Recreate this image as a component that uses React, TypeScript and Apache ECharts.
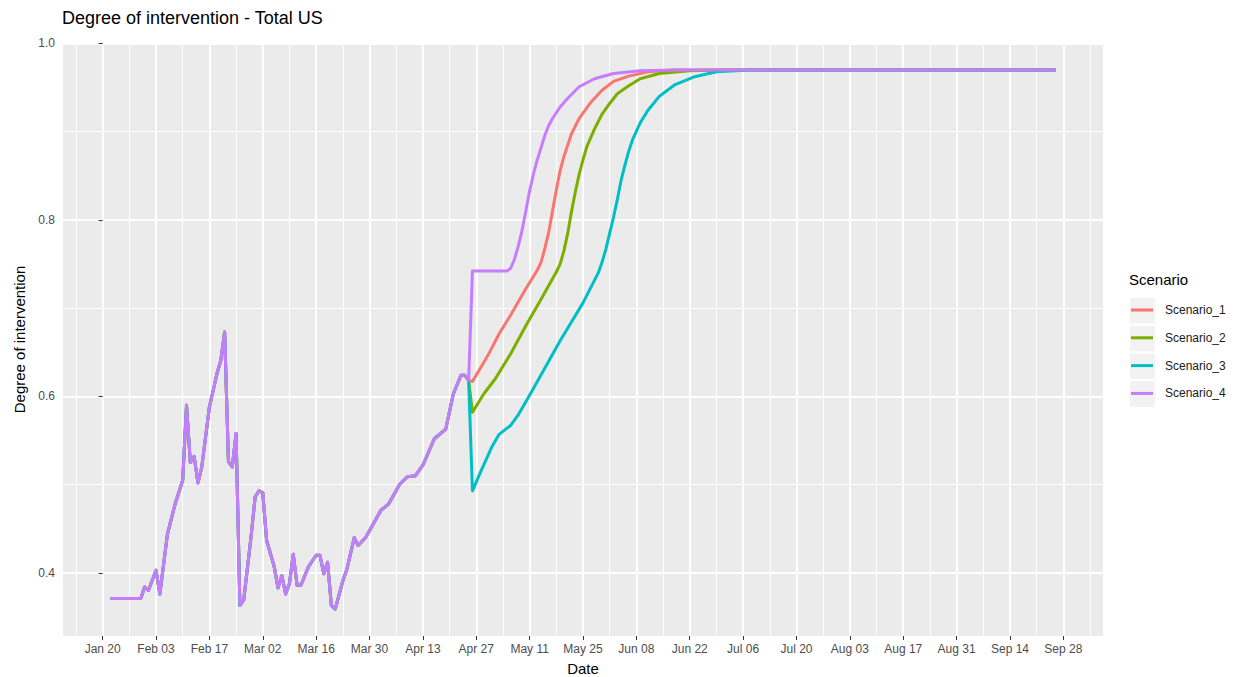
import React, { useEffect, useRef } from "react";
import * as echarts from "echarts";

// ---- data (dates 2020) ----
const historyDates = [
  "2020-01-22","2020-01-30","2020-01-31","2020-02-01","2020-02-03","2020-02-04","2020-02-06","2020-02-08",
  "2020-02-10","2020-02-11","2020-02-12","2020-02-13","2020-02-14","2020-02-15","2020-02-17","2020-02-19",
  "2020-02-20","2020-02-21","2020-02-22","2020-02-23","2020-02-24","2020-02-25","2020-02-26","2020-02-28",
  "2020-02-29","2020-03-01","2020-03-02","2020-03-03","2020-03-05","2020-03-06","2020-03-07","2020-03-08",
  "2020-03-09","2020-03-10","2020-03-11","2020-03-12","2020-03-14","2020-03-16","2020-03-17","2020-03-18",
  "2020-03-19","2020-03-20","2020-03-21","2020-03-23","2020-03-24","2020-03-26","2020-03-27","2020-03-29",
  "2020-04-02","2020-04-04","2020-04-07","2020-04-09","2020-04-11","2020-04-13","2020-04-16","2020-04-19",
  "2020-04-21","2020-04-23","2020-04-24","2020-04-25"
];
const historyValues = [
  0.371,0.371,0.384,0.380,0.403,0.376,0.444,0.478,
  0.505,0.590,0.525,0.532,0.502,0.520,0.588,0.626,
  0.641,0.673,0.526,0.520,0.558,0.363,0.369,0.444,
  0.486,0.493,0.491,0.437,0.407,0.383,0.397,0.376,
  0.388,0.421,0.386,0.386,0.407,0.420,0.420,0.399,
  0.412,0.363,0.359,0.391,0.403,0.440,0.431,0.440,
  0.471,0.478,0.501,0.509,0.510,0.522,0.552,0.563,
  0.603,0.624,0.624,0.618
];

const s1Dates = ["2020-04-26","2020-04-30","2020-05-03","2020-05-06","2020-05-10","2020-05-13","2020-05-14","2020-05-15","2020-05-16","2020-05-17","2020-05-18","2020-05-19","2020-05-20","2020-05-21","2020-05-22","2020-05-24","2020-05-27","2020-05-30","2020-06-02","2020-06-06","2020-06-11","2020-06-18","2020-09-26"];
const s1Values = [0.617,0.646,0.671,0.692,0.722,0.743,0.752,0.768,0.786,0.810,0.834,0.856,0.872,0.885,0.898,0.915,0.933,0.947,0.957,0.963,0.968,0.970,0.970];

const s2Dates = ["2020-04-26","2020-04-29","2020-05-02","2020-05-06","2020-05-10","2020-05-14","2020-05-18","2020-05-19","2020-05-20","2020-05-21","2020-05-22","2020-05-23","2020-05-24","2020-05-25","2020-05-26","2020-05-28","2020-05-30","2020-06-01","2020-06-03","2020-06-06","2020-06-09","2020-06-14","2020-06-22","2020-07-01","2020-09-26"];
const s2Values = [0.582,0.603,0.620,0.648,0.680,0.710,0.741,0.750,0.765,0.785,0.810,0.832,0.852,0.868,0.883,0.903,0.920,0.932,0.943,0.952,0.960,0.966,0.969,0.970,0.970];

const s3Dates = ["2020-04-26","2020-04-28","2020-05-01","2020-05-03","2020-05-06","2020-05-08","2020-05-12","2020-05-19","2020-05-25","2020-05-29","2020-05-30","2020-05-31","2020-06-01","2020-06-02","2020-06-03","2020-06-04","2020-06-05","2020-06-06","2020-06-07","2020-06-09","2020-06-11","2020-06-14","2020-06-18","2020-06-23","2020-06-29","2020-07-08","2020-09-26"];
const s3Values = [0.493,0.513,0.542,0.557,0.567,0.579,0.609,0.663,0.706,0.740,0.752,0.767,0.785,0.803,0.823,0.845,0.862,0.878,0.891,0.910,0.924,0.940,0.953,0.962,0.968,0.970,0.970];

const s4Dates = ["2020-04-26","2020-05-05","2020-05-06","2020-05-07","2020-05-08","2020-05-09","2020-05-10","2020-05-11","2020-05-12","2020-05-13","2020-05-14","2020-05-15","2020-05-16","2020-05-17","2020-05-19","2020-05-21","2020-05-24","2020-05-28","2020-06-02","2020-06-09","2020-06-18","2020-09-26"];
const s4Values = [0.742,0.742,0.745,0.755,0.770,0.788,0.810,0.833,0.852,0.868,0.882,0.896,0.907,0.915,0.928,0.938,0.951,0.960,0.966,0.969,0.970,0.970];

const scenarioNames = ["Scenario_1", "Scenario_2", "Scenario_3", "Scenario_4"];
const scenarioColors = ["#F8766D", "#7CAE00", "#00BFC4", "#C77CFF"];

const majorTickDates = [
  "2020-01-20","2020-02-03","2020-02-17","2020-03-02","2020-03-16","2020-03-30","2020-04-13","2020-04-27",
  "2020-05-11","2020-05-25","2020-06-08","2020-06-22","2020-07-06","2020-07-20","2020-08-03","2020-08-17",
  "2020-08-31","2020-09-14","2020-09-28"
];
const yMajorTicks = [0.4, 0.6, 0.8, 1.0];
const yMinorTicks = [0.5, 0.7, 0.9];

const MONTHS = ["Jan","Feb","Mar","Apr","May","Jun","Jul","Aug","Sep","Oct","Nov","Dec"];
const DAY0 = Date.UTC(2020, 0, 20);
const DAYMS = 86400000;
const toDay = (s: string) => (Date.parse(s) - DAY0) / DAYMS;
const fmtDay = (v: number) => {
  const d = new Date(DAY0 + Math.round(v) * DAYMS);
  const dd = d.getUTCDate();
  return MONTHS[d.getUTCMonth()] + " " + (dd < 10 ? "0" + dd : "" + dd);
};

export default function App() {
  const ref = useRef<HTMLDivElement>(null);
  useEffect(() => {
    if (!ref.current) return;
    const chart = echarts.init(ref.current, null, { renderer: "svg" });

    const hist = historyDates.map((d, i) => [toDay(d), historyValues[i]]);
    const branches = [
      [s1Dates, s1Values],
      [s2Dates, s2Values],
      [s3Dates, s3Values],
      [s4Dates, s4Values],
    ] as [string[], number[]][];

    const allDays = [...historyDates, ...s1Dates, ...s2Dates, ...s3Dates, ...s4Dates].map(toDay);
    const allVals = [...historyValues, ...s1Values, ...s2Values, ...s3Values, ...s4Values];
    const dMin = Math.min(...allDays), dMax = Math.max(...allDays);
    const vMin = Math.min(...allVals), vMax = Math.max(...allVals);
    const xMin = dMin - 0.05 * (dMax - dMin);
    const xMax = dMax + 0.05 * (dMax - dMin);
    const yMin = vMin - 0.05 * (vMax - vMin);
    const yMax = vMax + 0.05 * (vMax - vMin);

    const majorX = majorTickDates.map(toDay);
    const minorX: number[] = [];
    majorX.forEach((m) => {
      if (m - 7 > xMin) minorX.push(m - 7);
    });
    if (majorX[majorX.length - 1] + 7 < xMax) minorX.push(majorX[majorX.length - 1] + 7);

    const font = "Liberation Sans, Arial, Helvetica, sans-serif";

    const series = scenarioNames.map((name, i) => ({
      name,
      type: "line",
      xAxisIndex: 1,
      yAxisIndex: 1,
      showSymbol: false,
      symbol: "none",
      data: [...hist, ...branches[i][0].map((d, j) => [toDay(d), branches[i][1][j]])],
      lineStyle: { color: scenarioColors[i], width: 3, join: "round" },
      itemStyle: { color: scenarioColors[i] },
      z: 2 + i,
    }));

    const keyRects = scenarioNames.map((_, i) => ({
      type: "rect",
      left: 1129,
      top: 297 + i * 27.8,
      shape: { width: 26, height: 26.5 },
      style: { fill: "#F2F2F2", stroke: "#FFFFFF", lineWidth: 1 },
      silent: true,
    }));

    chart.setOption({
      animation: false,
      textStyle: { fontFamily: font },
      title: {
        text: "Degree of intervention - Total US",
        left: 62,
        top: 9,
        padding: 0,
        textStyle: { fontSize: 18, fontWeight: "normal", color: "#000", fontFamily: font },
      },
      grid: [
        {
          left: 63,
          top: 43,
          width: 1040,
          height: 593,
          show: true,
          backgroundColor: "#EBEBEB",
          borderWidth: 0,
          containLabel: false,
          outerBoundsMode: "none",
        },
      ],
      xAxis: [
        {
          type: "value",
          position: "bottom",
          min: xMin,
          max: xMax,
          axisLine: { show: false },
          axisTick: { show: false, customValues: minorX },
          axisLabel: { show: false, customValues: minorX },
          splitLine: { show: true, lineStyle: { color: "#FFFFFF", width: 0.9 } },
        },
        {
          type: "value",
          position: "bottom",
          min: xMin,
          max: xMax,
          axisLine: { show: false },
          axisTick: { show: true, customValues: majorX, length: 4, lineStyle: { color: "#333333", width: 1 } },
          axisLabel: {
            customValues: majorX,
            formatter: (v: number) => fmtDay(v),
            color: "#4D4D4D",
            fontSize: 12,
            margin: 7,
            fontFamily: font,
          },
          splitLine: { show: true, lineStyle: { color: "#FFFFFF", width: 1.8 } },
          name: "Date",
          nameLocation: "middle",
          nameGap: 25,
          nameTextStyle: { fontSize: 15, color: "#000", fontFamily: font },
        },
      ],
      yAxis: [
        {
          type: "value",
          position: "left",
          min: yMin,
          max: yMax,
          axisLine: { show: false },
          axisTick: { show: false, customValues: yMinorTicks },
          axisLabel: { show: false, customValues: yMinorTicks },
          splitLine: { show: true, lineStyle: { color: "#FFFFFF", width: 0.9 } },
        },
        {
          type: "value",
          position: "left",
          min: yMin,
          max: yMax,
          axisLine: { show: false },
          axisTick: { show: true, customValues: yMajorTicks, length: 4, lineStyle: { color: "#333333", width: 1 } },
          axisLabel: {
            customValues: yMajorTicks,
            formatter: (v: number) => v.toFixed(1),
            color: "#4D4D4D",
            fontSize: 12,
            margin: 8,
            fontFamily: font,
          },
          splitLine: { show: true, lineStyle: { color: "#FFFFFF", width: 1.8 } },
          name: "Degree of intervention",
          nameLocation: "middle",
          nameGap: 35,
          nameRotate: 90,
          nameTextStyle: { fontSize: 15, color: "#000", fontFamily: font },
        },
      ],
      legend: {
        orient: "vertical",
        left: 1131,
        top: 303,
        padding: 0,
        itemGap: 13.8,
        itemWidth: 22,
        itemHeight: 3,
        icon: "rect",
        selectedMode: false,
        data: scenarioNames,
        textStyle: { fontSize: 12, color: "#1A1A1A", lineHeight: 14, padding: [0, 0, 0, 7], fontFamily: font },
      },
      graphic: [
        ...keyRects,
        {
          type: "text",
          left: 1129,
          top: 272,
          style: { text: "Scenario", fontSize: 15, fill: "#000", fontFamily: font },
          silent: true,
        },
      ],
      series,
    });

    return () => chart.dispose();
  }, []);

  return (
    <div
      ref={ref}
      style={{ position: "absolute", left: 0, top: 0, width: 1243, height: 677 }}
    />
  );
}
